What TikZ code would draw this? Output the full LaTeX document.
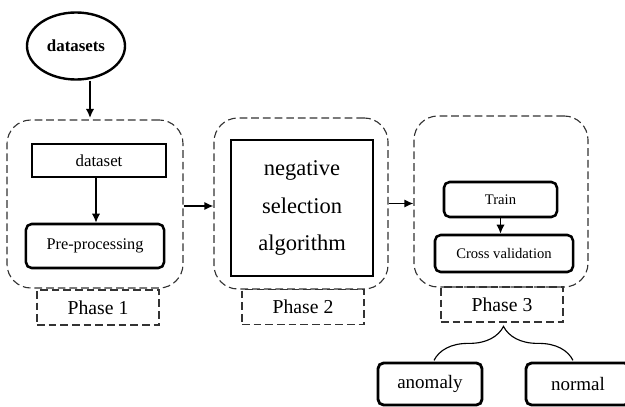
\documentclass[tikz,border=0pt]{standalone}
\usepackage{fontspec}
\setmainfont{Liberation Serif}
\usetikzlibrary{positioning,arrows.meta,decorations.pathreplacing,shapes.geometric}

\begin{document}
\begin{tikzpicture}[
    x=0.025cm, y=-0.025cm,
    phase/.style={rectangle, draw=black!80, dash pattern=on 5.5pt off 2.8pt, line width=0.8pt, rounded corners=0.6cm, minimum width=4.35cm, minimum height=4.275cm},
    phasetag/.style={rectangle, draw=black!80, dash pattern=on 5.5pt off 2.8pt, line width=0.8pt, minimum width=3.05cm, minimum height=0.875cm, font=\fontsize{14}{16}\selectfont},
    box/.style={rectangle, draw, line width=1.8pt, align=center, inner sep=0pt},
    rbox/.style={box, rounded corners=4pt},
    arrow/.style={-{Latex[length=6.5pt,width=6pt]}, line width=1.1pt}
]
\useasboundingbox (0,0) rectangle (625,407);

% input
\node[ellipse, draw, line width=1.7pt, minimum width=2.45cm, minimum height=1.675cm, font=\bfseries\fontsize{12}{14}\selectfont] (datasets) at (76,46) {datasets};

% phase 1
\node[phase, minimum width=4.4cm, minimum height=4.2cm] (phase1) at (95,204) {};
\node[box, minimum width=3.35cm, minimum height=0.825cm, font=\fontsize{12}{14}\selectfont] (dataset) at (99,160.5) {dataset};
\node[rbox, minimum width=3.45cm, minimum height=1.1cm, font=\fontsize{11.6}{14}\selectfont] (preproc) at (95,246) {Pre-processing};
\node[phasetag] (tag1) at (98,307.5) {Phase 1};

% phase 2
\node[phase] (phase2) at (301,203.5) {};
\node[box, line width=2.1pt, minimum width=3.55cm, minimum height=3.4cm, font=\fontsize{16}{27}\selectfont] (nsa) at (302,208) {negative\\selection\\algorithm};
\node[phasetag] (tag2) at (303,307) {Phase 2};

% phase 3
\node[phase] (phase3) at (501,201.5) {};
\node[rbox, minimum width=2.825cm, minimum height=0.875cm, font=\fontsize{10.4}{12}\selectfont] (train) at (500.5,199.5) {Train};
\node[rbox, minimum width=3.45cm, minimum height=0.925cm, font=\fontsize{10.4}{12}\selectfont] (cross) at (504,253.5) {Cross validation};
\node[phasetag] (tag3) at (502,304.5) {Phase 3};

% outcomes
\node[rbox, line width=2pt, minimum width=2.6cm, minimum height=1.05cm, font=\fontsize{13.5}{16}\selectfont] (anomaly) at (430,384) {anomaly};
\node[rbox, line width=2pt, minimum width=2.6cm, minimum height=1.05cm, font=\fontsize{13.5}{16}\selectfont] (normal) at (578,384) {normal};

\coordinate (in1) at (90,118);
\draw[arrow] (datasets.south -| in1) -- (in1);
\draw[arrow] ([xshift=-0.075cm]dataset.south) -- ([xshift=-0.075cm]dataset.south |- preproc.north);
\draw[arrow] ([yshift=-0.05cm]phase1.east) -- ([yshift=-0.05cm]phase1.east -| phase2.west);
\draw[arrow] (phase2.east) -- (phase2.east -| phase3.west);
\draw[arrow] (train.south) -- (train.south |- cross.north);
\draw[decorate, decoration={brace, amplitude=0.85cm}, line width=0.8pt] ([xshift=0.1cm, yshift=0.03cm]anomaly.north) -- ([xshift=-0.125cm, yshift=0.03cm]normal.north);
\end{tikzpicture}
\end{document}
